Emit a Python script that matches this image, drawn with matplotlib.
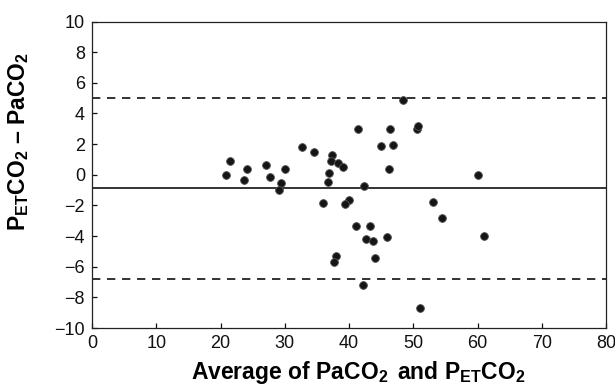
import matplotlib
matplotlib.use("Agg")
import matplotlib.pyplot as plt

plt.rcParams['font.family'] = ['Liberation Sans', 'DejaVu Sans']
plt.rcParams['mathtext.fontset'] = 'custom'
plt.rcParams['mathtext.rm'] = 'Liberation Sans'
plt.rcParams['mathtext.bf'] = 'Liberation Sans:bold'
plt.rcParams['mathtext.it'] = 'Liberation Sans:italic'

# Bland-Altman data: mean of the two measurements vs. their difference
avg_co2 = [20.8, 21.4, 23.6, 24.1, 27.1, 27.7, 29.4, 29.1, 30.0, 32.6,
           34.6, 35.9, 36.9, 36.7, 37.4, 37.2, 38.2, 39.1, 37.9, 37.6,
           40.0, 39.4, 41.1, 41.4, 42.4, 42.1, 42.7, 43.8, 43.2, 44.1,
           44.9, 45.9, 46.2, 46.4, 46.9, 48.4, 50.5, 50.7, 51.0, 53.1,
           54.5, 60.0, 61.0]
diff_co2 = [0.0, 0.87, -0.33, 0.39, 0.61, -0.13, -0.54, -1.0, 0.39, 1.80,
            1.47, -1.82, 0.09, -0.46, 1.26, 0.93, 0.80, 0.52, -5.31, -5.70,
            -1.63, -1.93, -3.32, 2.99, -0.72, -7.19, -4.20, -4.31, -3.32, -5.42,
            1.86, -4.05, 0.39, 2.97, 1.97, 4.85, 3.01, 3.21, -8.69, -1.76,
            -2.82, -0.02, -3.99]

mean_bias = -0.85
upper_loa = 4.98
lower_loa = -6.77

x_ticks = [0, 10, 20, 30, 40, 50, 60, 70, 80]
y_ticks = [-10, -8, -6, -4, -2, 0, 2, 4, 6, 8, 10]

fig = plt.figure(figsize=(6.15, 3.91), dpi=100)
ax = fig.add_axes([0.1496, 0.161, 0.836, 0.784])

ax.axhline(mean_bias, color='#111111', lw=1.2, zorder=1)
ax.axhline(upper_loa, color='#111111', lw=1.2, ls=(0, (5, 4)), zorder=1)
ax.axhline(lower_loa, color='#111111', lw=1.2, ls=(0, (5, 4)), zorder=1)

ax.plot(avg_co2, diff_co2, 'o', ms=5.6, mfc='#151515', mec='#555555',
        mew=0.6, ls='none', zorder=3)

ax.set_xlim(0, 80)
ax.set_ylim(-10, 10)
ax.set_xticks(x_ticks)
ax.set_yticks(y_ticks)
ax.set_yticklabels([str(v).replace('-', '\u2212') for v in y_ticks])
ax.tick_params(direction='in', length=3.5, width=0.9, labelsize=13,
               colors='#111111', pad=5)
for sp in ax.spines.values():
    sp.set_linewidth(0.9)
    sp.set_color('#222222')

ax.set_xlabel(r'$\mathbf{Average\ of\ PaCO_2\,\ and\ P_{ET}CO_2}$',
              fontsize=16.5)
ax.xaxis.set_label_coords(0.517, -0.1)
ax.set_ylabel(r'$\mathbf{P_{ET}CO_2}$ – $\mathbf{PaCO_2}$',
              fontsize=16.5, fontweight='bold')
ax.yaxis.set_label_coords(-0.118, 0.61)

fig.savefig('out.png', dpi=100)
